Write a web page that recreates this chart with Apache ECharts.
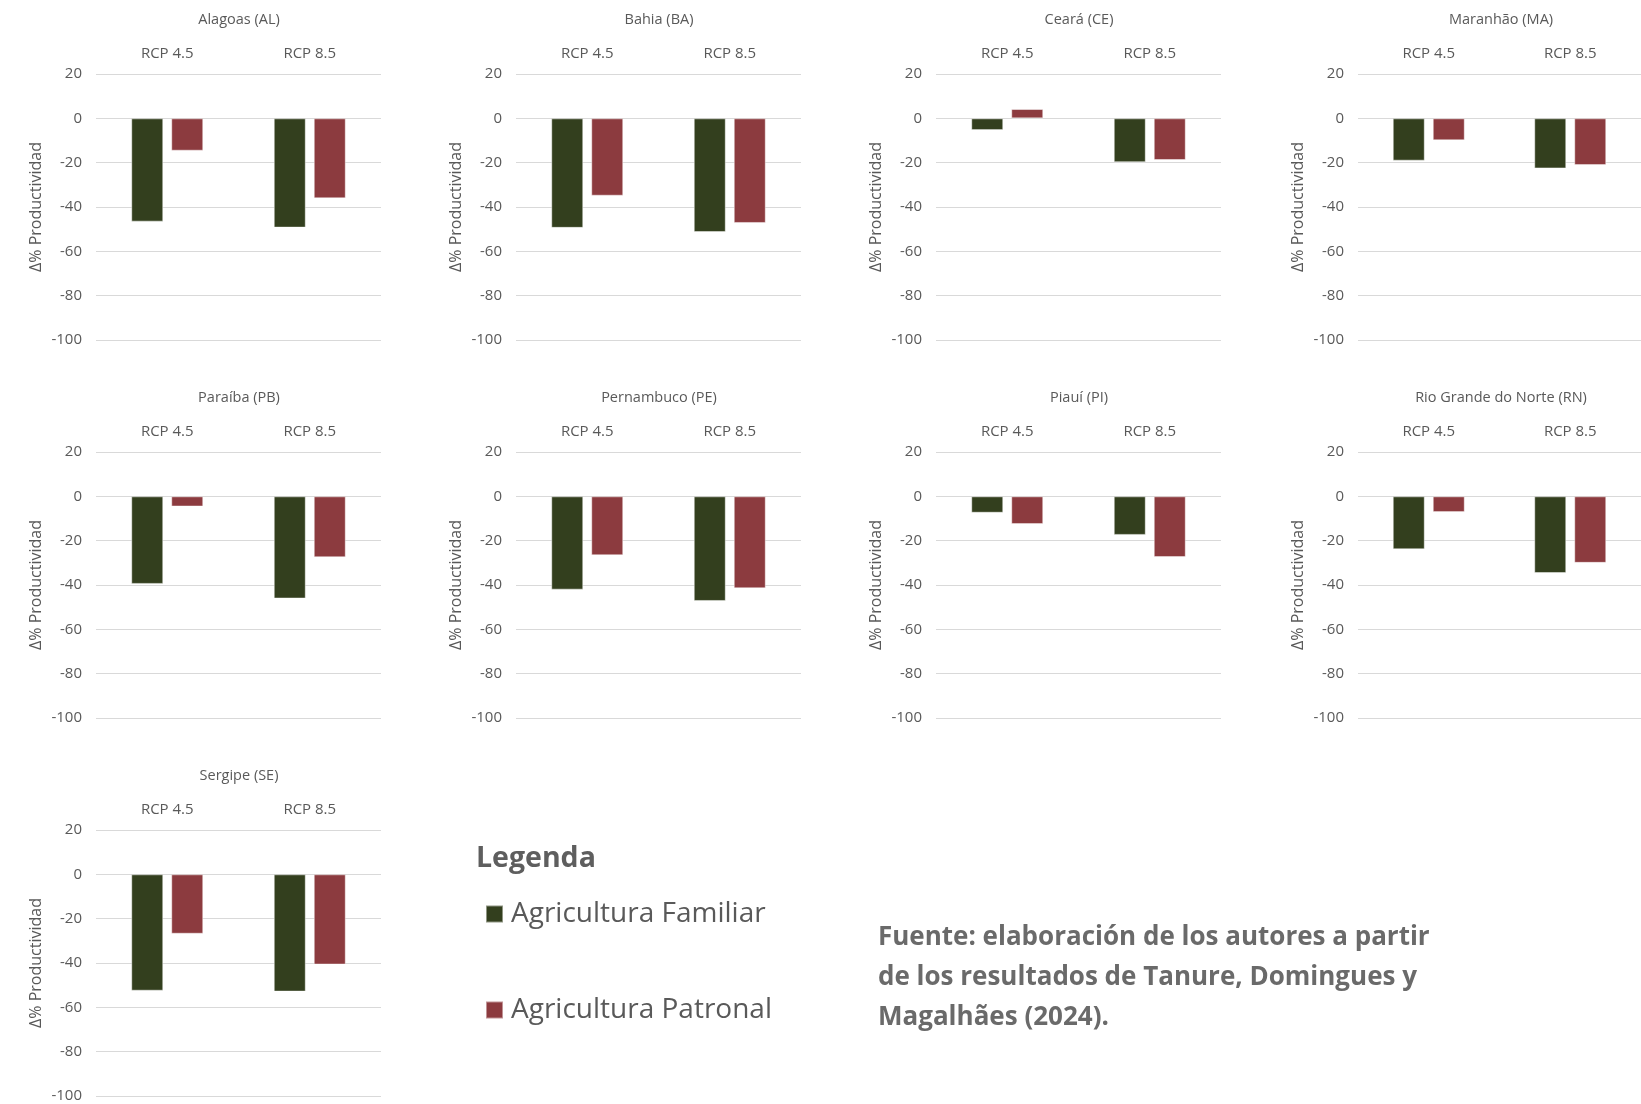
<!DOCTYPE html>
<html>
<head>
<meta charset="utf-8">
<script src="https://cdn.jsdelivr.net/npm/echarts@6/dist/echarts.min.js"></script>
<style>
html,body{margin:0;padding:0;background:#fff;}
#chart{width:1641px;height:1104px;}
</style>
</head>
<body>
<div id="chart"></div>
<script>
// ---- data ----
var states = ['Alagoas (AL)', 'Bahia (BA)', 'Ceará (CE)', 'Maranhão (MA)', 'Paraíba (PB)', 'Pernambuco (PE)', 'Piauí (PI)', 'Rio Grande do Norte (RN)', 'Sergipe (SE)'];
var scenarios = ['RCP 4.5', 'RCP 8.5'];
var seriesNames = ['Agricultura Familiar', 'Agricultura Patronal'];
// values per state: [RCP 4.5, RCP 8.5]
var familiar = [[-46.6, -49.3], [-49.4, -51.3], [-5.3, -19.8], [-19.1, -22.6], [-39.5, -46.1], [-42.1, -47.2], [-7.4, -17.4], [-23.9, -34.6], [-52.5, -52.9]];
var patronal = [[-14.6, -36.1], [-34.9, -47.2], [4.2, -18.8], [-9.9, -21.1], [-4.6, -27.5], [-26.6, -41.5], [-12.5, -27.4], [-7.1, -30.0], [-26.8, -40.7]];
var yMin = -100, yMax = 20, yStep = 20;
var axisName = 'Δ% Productividad';
var legendTitle = 'Legenda';
var sourceLines = ['Fuente: elaboración de los autores a partir', 'de los resultados de Tanure, Domingues y', 'Magalhães (2024).'];

// ---- layout ----
var colLeft = [96, 516, 936, 1358];
var rowTop = [74, 452, 830];
var gw = 285, gh = 266;
var colors = ['#333f1e', '#8c3b3f'];
var txt = '#595959';
var FONT = '"Open Sans", "Noto Sans", sans-serif';

var grids = [], xAxes = [], yAxes = [], series = [], graphics = [];
states.forEach(function (st, i) {
  var r = Math.floor(i / 4), c = i % 4;
  var L = colLeft[c], T = rowTop[r];
  grids.push({left: L, top: T, width: gw, height: gh, containLabel: false});
  xAxes.push({
    type: 'category', gridIndex: i, data: scenarios, position: 'top',
    axisLine: {show: false}, axisTick: {show: false},
    axisLabel: {color: txt, fontSize: 15, margin: 13, fontFamily: FONT}
  });
  yAxes.push({
    type: 'value', gridIndex: i, min: yMin, max: yMax, interval: yStep,
    axisLine: {show: false}, axisTick: {show: false},
    axisLabel: {color: txt, fontSize: 15, margin: 14, fontFamily: FONT},
    splitLine: {lineStyle: {color: '#d9d9d9', width: 1}},
    name: axisName, nameLocation: 'middle', nameGap: 52, nameRotate: 90,
    nameTextStyle: {color: txt, fontSize: 16, fontFamily: FONT}
  });
  [familiar, patronal].forEach(function (arr, k) {
    series.push({
      type: 'bar', name: seriesNames[k], xAxisIndex: i, yAxisIndex: i,
      data: arr[i], barWidth: 32, barGap: '25%',
      itemStyle: {color: colors[k], borderColor: 'rgba(255,255,255,0.45)', borderWidth: 1},
      silent: true
    });
  });
  graphics.push({
    type: 'text', x: L + 143, y: T - 54,
    style: {text: st, textAlign: 'center', textVerticalAlign: 'middle', fill: txt, fontSize: 14.5, fontFamily: FONT}
  });
});

graphics.push({
  type: 'text', x: 476, y: 859,
  style: {text: legendTitle, textAlign: 'left', textVerticalAlign: 'middle', fill: '#5e5e5e', fontSize: 28.5, fontWeight: 'bold', fontFamily: FONT}
});
sourceLines.forEach(function (line, j) {
  graphics.push({
    type: 'text', x: 878, y: 938 + j * 40,
    style: {text: line, textAlign: 'left', textVerticalAlign: 'middle', fill: '#6a6a6a', fontSize: 26, fontWeight: 'bold', fontFamily: FONT}
  });
});

var chart = echarts.init(document.getElementById('chart'), null, {renderer: 'canvas'});
chart.setOption({
  backgroundColor: '#ffffff',
  animation: false,
  grid: grids,
  xAxis: xAxes,
  yAxis: yAxes,
  series: series,
  legend: {
    data: seriesNames, orient: 'vertical', left: 480, top: 895,
    icon: 'rect', itemWidth: 17, itemHeight: 17, itemGap: 68,
    textStyle: {color: txt, fontSize: 28, fontFamily: FONT, padding: [0, 0, 0, 3]},
    selectedMode: false
  },
  graphic: graphics
});
</script>
</body>
</html>
